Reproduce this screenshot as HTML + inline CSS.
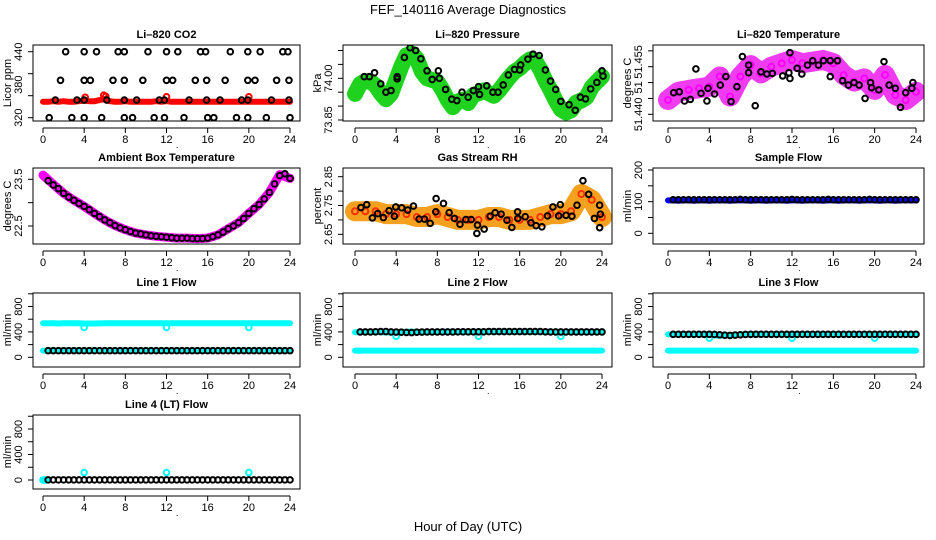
<!DOCTYPE html>
<html><head><meta charset="utf-8">
<style>
html,body{margin:0;padding:0;background:#fff;}
svg{display:block;font-family:"Liberation Sans",Arial,sans-serif;}
</style></head>
<body>
<svg id="chart" width="936" height="540" viewBox="0 0 936 540" xmlns="http://www.w3.org/2000/svg">
<rect x="0" y="0" width="936" height="540" fill="#fff"/>
<text x="468" y="14" font-size="13" text-anchor="middle">FEF_140116  Average Diagnostics</text>
<text x="468" y="531" font-size="13" text-anchor="middle">Hour of Day (UTC)</text>
</svg>
<script>
// ---------- data ----------
const xTicks = [0,4,8,12,16,20,24];
const co2BlackHours = [2.2,4.0,5.2,7.3,7.9,10.2,12.0,13.1,15.3,15.8,18.2,19.9,21.1,23.3,23.8,
 1.7,4.0,4.6,6.8,7.9,9.7,12.0,12.6,14.8,15.9,17.7,19.9,20.6,22.7,23.9,
 1.2,3.3,4.0,6.2,7.9,9.1,11.3,11.8,14.2,15.9,17.2,19.3,19.9,22.2,23.9,
 0.6,2.8,4.0,5.7,7.9,8.7,10.8,11.8,13.7,16.0,16.6,18.8,19.9,21.7,24.0];
const co2BlackValues = [440,440,440,440,440,440,440,440,440,440,440,440,440,440,440,
 388,388,388,388,388,388,388,388,388,388,388,388,388,388,388,
 352,352,352,352,352,352,352,352,352,352,352,352,352,352,352,
 320,320,320,320,320,320,320,320,320,320,320,320,320,320,320];
const co2RedValues = [349,349,350,349,350,349,349,350,351,350,350,352,354,350,349,349,350,349,349,349,349,349,350,349,350,349,349,349,349,349,349,349,349,349,349,349,349,349,349,349,349,349,349,349,349,349,349,349,349];
const co2RedOutHours = [4.1,5.9,6.1,12.0,20.0];
const co2RedOutValues = [357,361,359,358,358];

const presGreen = [73.944,73.979,73.990,73.988,73.974,73.946,73.925,73.944,73.994,74.042,74.083,74.089,74.071,74.024,74.000,73.994,73.988,73.958,73.923,73.896,73.917,73.923,73.911,73.940,73.946,73.956,73.946,73.937,73.956,73.980,74.004,74.024,74.036,74.054,74.068,74.063,74.032,73.992,73.958,73.920,73.889,73.877,73.885,73.913,73.920,73.932,73.968,73.988,74.006];
const presBlackHours = [0.9,1.4,1.9,2.5,3.0,3.5,4.1,4.1,4.8,5.35,5.9,6.4,7.0,7.5,8.1,8.2,8.8,9.4,9.9,10.4,11.0,11.5,12.0,12.1,12.8,13.4,13.9,14.4,14.9,15.5,16.0,16.1,16.8,17.3,17.9,18.5,19.0,19.5,20.0,20.8,21.4,21.9,22.4,22.9,23.5,24.0,24.1];
const presBlackValues = [74.006,74.006,74.020,73.980,73.950,73.956,74.006,73.998,74.075,74.110,74.100,74.070,74.027,73.996,74.027,74.000,73.960,73.925,73.920,73.950,73.932,73.956,73.970,73.942,73.973,73.950,73.950,73.976,74.012,74.032,74.030,74.048,74.069,74.087,74.082,74.030,73.990,73.960,73.917,73.905,73.885,73.932,73.926,73.962,73.985,74.027,74.008];

const tempMagenta = [51.4445,51.4471,51.4477,51.4482,51.4487,51.4519,51.4456,51.4519,51.4555,51.4529,51.4550,51.4561,51.4571,51.4561,51.4566,51.4571,51.4561,51.4524,51.4503,51.4513,51.4477,51.4524,51.4461,51.4445,51.4471];
const tempBlackHours = [0.55,1.1,1.6,2.16,2.7,3.2,3.77,3.87,4.5,5.06,5.6,6.1,6.67,7.2,7.8,7.8,8.44,9.0,9.57,10.1,11.1,11.7,11.8,11.8,12.5,12.95,13.5,14.0,14.56,15.05,15.7,15.7,16.4,16.9,17.46,18.0,18.5,19.07,19.6,19.7,20.4,20.9,21.4,22.0,22.5,23.0,23.6,23.7];
const tempBlackValues = [51.4468,51.4471,51.4442,51.4447,51.4543,51.4466,51.4442,51.4482,51.4464,51.4492,51.4519,51.4440,51.4487,51.4582,51.4555,51.4531,51.4427,51.4534,51.4527,51.4529,51.4521,51.4531,51.4594,51.4513,51.4545,51.4527,51.4555,51.4569,51.4555,51.4569,51.4569,51.4519,51.4569,51.4506,51.4492,51.4500,51.4492,51.4450,51.4500,51.4484,51.4477,51.4566,51.4492,51.4482,51.4422,51.4468,51.4482,51.4500];

const ambMagenta = [23.59,23.39,23.20,23.05,22.92,22.77,22.63,22.51,22.42,22.35,22.31,22.28,22.26,22.24,22.24,22.23,22.24,22.31,22.44,22.57,22.77,22.96,23.22,23.60,23.52];
const ambBlack = [23.47,23.38,23.30,23.20,23.12,23.05,22.98,22.92,22.85,22.77,22.70,22.63,22.57,22.51,22.46,22.42,22.38,22.35,22.33,22.31,22.29,22.28,22.27,22.26,22.25,22.24,22.24,22.24,22.23,22.23,22.23,22.24,22.27,22.31,22.37,22.44,22.50,22.57,22.66,22.77,22.87,22.96,23.08,23.22,23.40,23.58,23.62,23.52];

const rhOrange = [2.73,2.73,2.73,2.72,2.72,2.72,2.71,2.71,2.72,2.71,2.70,2.70,2.70,2.71,2.71,2.70,2.70,2.70,2.71,2.72,2.72,2.73,2.79,2.77,2.71];
const rhBlackHours = [0.58,1.14,1.69,2.2,2.76,3.31,3.83,3.96,4.54,5.12,5.68,6.23,6.75,7.3,7.85,7.88,8.6,9.15,9.67,10.2,10.77,11.29,11.84,11.9,12.55,13.14,13.62,14.2,14.76,15.24,15.8,15.82,16.54,17.1,17.6,18.16,18.71,19.23,19.79,19.95,20.5,21.08,21.57,22.15,22.7,23.26,23.77,23.84,23.77];
const rhBlackValues = [2.743,2.753,2.707,2.722,2.708,2.732,2.713,2.745,2.742,2.734,2.748,2.703,2.703,2.688,2.728,2.774,2.757,2.725,2.705,2.685,2.701,2.701,2.653,2.682,2.668,2.713,2.725,2.720,2.699,2.674,2.728,2.705,2.711,2.690,2.680,2.676,2.714,2.745,2.714,2.753,2.716,2.713,2.751,2.836,2.789,2.705,2.751,2.720,2.673];

const sfBlue = [104,104,103,104,104,103,104,104,103,104,104,104,103,104,104,104,103,104,104,103,104,104,104,103,104,104,103,104,104,104,103,104,104,103,104,104,104,103,104,104,104,103,104,104,103,104,104,104,104];
const sfBlack = [106,106,106,106,106,106,106,106,106,106,106,106,106,107,106,106,106,106,106,106,106,106,106,107,106,106,106,106,106,106,107,106,106,106,106,106,106,106,107,106,106,106,106,106,106,106,106,106];

const l1CyanTop = [537,537,535,532,535,535,535,535,530,532,533,534,535,535,535,535,537,537,537,537,537,537,537,537,537,537,537,537,537,537,537,537,537,537,537,537,537,537,537,537,537,537,537,537,537,537,537,537,537];
const l1CyanBottom = [105,105,105,105,105,105,105,105,105,105,105,105,105,105,105,105,105,105,105,105,105,105,105,105,105,105,105,105,105,105,105,105,105,105,105,105,105,105,105,105,105,105,105,105,105,105,105,105,105];
const l1Black = [105,105,105,105,105,105,105,105,105,105,105,105,105,105,105,105,105,105,105,105,105,105,105,105,105,105,105,105,105,105,105,105,105,105,105,105,105,105,105,105,105,105,105,105,105,105,105,105];
const l1OutHours = [4,12,20];
const l1OutValues = [470,470,470];

const l2CyanTop = [395,395,398,402,400,395,392,390,395,398,402,405,400,398,395,398,400,402,404,402,400,398,400,400,402,405,402,400,400,400,400,400,400,400,400,400,400,400,400,400,400,400,400,400,400,400,400,400,400];
const l2CyanBottom = l1CyanBottom.slice();
const l2Black = [400,400,400,402,405,405,400,398,395,392,390,395,398,400,400,400,400,400,400,402,402,402,402,402,402,405,405,405,405,405,405,405,405,405,405,405,402,400,400,400,400,400,400,400,400,400,400,400];
const l2OutHours = [4,12,20];
const l2OutValues = [330,330,330];

const l3CyanTop = [360,360,360,360,360,360,360,360,355,345,340,345,350,355,358,360,360,360,360,360,360,360,360,360,360,360,360,360,360,360,360,360,360,360,360,360,360,360,360,360,360,360,360,360,360,360,360,360,360];
const l3CyanBottom = l1CyanBottom.slice();
const l3Black = [362,362,362,362,362,362,362,362,360,355,348,345,350,355,360,362,362,362,362,362,362,362,362,362,362,362,362,362,362,362,362,362,362,362,362,362,362,362,362,362,362,362,362,362,362,362,362,362];
const l3OutHours = [4,12,20];
const l3OutValues = [300,300,300];

const l4CyanHours = [0,0.1,0.2,0.3];
const l4CyanValues = [0,0,0,0];
const l4Black = [2,2,2,2,2,2,2,2,2,2,2,2,2,2,2,2,2,2,2,2,2,2,2,2,2,2,2,2,2,2,2,2,2,2,2,2,2,2,2,2,2,2,2,2,2,2,2,2];
const l4OutHours = [4,12,20];
const l4OutValues = [117,117,117];

// ---------- helpers ----------
const NS = 'http://www.w3.org/2000/svg';
const svg = document.getElementById('chart');
function mk(tag, attrs, parent){
  const e = document.createElementNS(NS, tag);
  for (const k in attrs) e.setAttribute(k, attrs[k]);
  (parent || svg).appendChild(e);
  return e;
}
const halfHours = []; for (let i = 1; i <= 48; i++) halfHours.push(i * 0.5);
const stepHalf = []; for (let i = 0; i <= 48; i++) stepHalf.push(i * 0.5);
const stepHour = []; for (let i = 0; i <= 24; i++) stepHour.push(i);

const rows = [{t:45,b:121},{t:168,b:244},{t:293,b:367},{t:415,b:489}];
const cols = [{l:33,r:300,x0:43,x24:290},{l:343,r:612,x0:355,x24:602},{l:653,r:924,x0:668,x24:916}];

let clipN = 0;
function makePanel(name, title, ylab, row, col, v1, y1, v2, y2, ticks, labels){
  const R = rows[row], C = cols[col];
  const g = mk('g', {});
  
  
  const p = {g, R, C,
    x: h => C.x0 + h * (C.x24 - C.x0) / 24,
    y: v => y1 + (v - v1) * (y2 - y1) / (v2 - v1)};
  const id = 'clip' + (clipN++);
  const cp = mk('clipPath', {id}, g);
  mk('rect', {x:C.l, y:R.t, width:C.r - C.l, height:R.b - R.t}, cp);
  p.plot = mk('g', {'clip-path':'url(#' + id + ')'}, g);
  
  
  const box = mk('rect', {x:C.l, y:R.t, width:C.r - C.l, height:R.b - R.t, fill:'none', stroke:'#000', 'stroke-width':1}, g);
  
  
  const t = mk('text', {x:(C.l + C.r) / 2, y:R.t - 7, 'font-size':11, 'font-weight':'bold', 'text-anchor':'middle'}, g);
  t.textContent = title;
  
  
  const ay = R.b + 7;
  mk('line', {x1:p.x(0), x2:p.x(24), y1:ay, y2:ay, stroke:'#000'}, g);
  xTicks.forEach(h => {
    mk('line', {x1:p.x(h), x2:p.x(h), y1:ay, y2:ay + 5, stroke:'#000'}, g);
    const tl = mk('text', {x:p.x(h), y:R.b + 22, 'font-size':11, 'text-anchor':'middle'}, g);
    tl.textContent = String(h);
    
    
  });
  const dot = mk('text', {x:C.l + (C.r - C.l) * 0.54, y:R.b + 27, 'font-size':9, 'text-anchor':'middle'}, g);
  dot.textContent = '.';
  mk('line', {x1:C.l, x2:C.l, y1:p.y(ticks[0]), y2:p.y(ticks[ticks.length - 1]), stroke:'#000'}, g);
  ticks.forEach(v => mk('line', {x1:C.l - 5, x2:C.l, y1:p.y(v), y2:p.y(v), stroke:'#000'}, g));
  labels.forEach(([v, s]) => {
    const yy = p.y(v), xx = C.l - 11;
    const tl = mk('text', {x:xx, y:yy, 'font-size':11, 'text-anchor':'middle', transform:'rotate(-90 ' + xx + ' ' + yy + ')'}, g);
    tl.textContent = s;
    
    
  });
  const ym = (R.t + R.b) / 2, xm = C.l - 22;
  const yl = mk('text', {x:xm, y:ym, 'font-size':11, 'text-anchor':'middle', transform:'rotate(-90 ' + xm + ' ' + ym + ')'}, g);
  yl.textContent = ylab;
  
  
  return p;
}
function band(p, hours, vals, color, width, name){
  const pts = hours.map((h, i) => p.x(h).toFixed(1) + ',' + p.y(vals[i]).toFixed(1)).join(' ');
  const pl = mk('polyline', {points:pts, fill:'none', stroke:color, 'stroke-width':width, 'stroke-linejoin':'round', 'stroke-linecap':'round'}, p.plot);
  
  
}
function pts(p, hours, vals, color, name, r){
  hours.forEach((h, i) => {
    const c = mk('circle', {cx:p.x(h), cy:p.y(vals[i]), r:r || 2.8, fill:'none', stroke:color, 'stroke-width':2}, p.plot);
    
    
  });
}

// ---------- panels ----------
let p;
p = makePanel('co2', 'Li\u2013820 CO2', 'Licor ppm', 0, 0, 320, 117.7, 440, 51.7, [320,360,400,440], [[320,'320'],[380,'380'],[440,'440']]);
band(p, stepHalf, co2RedValues, '#ff0000', 6, 'co2-red-series');
pts(p, co2RedOutHours, co2RedOutValues, '#ff0000', 'co2-red-point');
pts(p, co2BlackHours, co2BlackValues, '#000', 'co2-black-point');

p = makePanel('pressure', 'Li\u2013820 Pressure', 'kPa', 0, 1, 74.00, 78.3, 73.85, 120, [73.85,73.90,73.95,74.00,74.05,74.10], [[73.85,'73.85'],[74.00,'74.00']]);
band(p, stepHalf, presGreen, '#1ed21e', 16, 'pressure-green-series');
pts(p, presBlackHours, presBlackValues, '#000', 'pressure-black-point');

p = makePanel('temperature', 'Li\u2013820 Temperature', 'degrees C', 0, 2, 51.44, 114.3, 51.455, 66.7, [51.440,51.445,51.450,51.455,51.460], [[51.440,'51.440'],[51.4485,'51'],[51.4565,'51.455']]);
band(p, stepHour, tempMagenta, '#f03cf0', 20, 'temperature-magenta-series');
pts(p, stepHour, tempMagenta, '#ff00ff', 'temperature-magenta-point', 3);
pts(p, tempBlackHours, tempBlackValues, '#000', 'temperature-black-point');

p = makePanel('ambient', 'Ambient Box Temperature', 'degrees C', 1, 0, 23.5, 179.3, 22.5, 226, [22.5,23.0,23.5], [[22.5,'22.5'],[23.5,'23.5']]);
band(p, stepHour, ambMagenta, '#ff00ff', 9, 'ambient-magenta-series');
pts(p, halfHours, ambBlack, '#000', 'ambient-black-point');

p = makePanel('rh', 'Gas Stream RH', 'percent', 1, 1, 2.85, 176.7, 2.65, 234.3, [2.65,2.70,2.75,2.80,2.85], [[2.65,'2.65'],[2.75,'2.75'],[2.85,'2.85']]);
band(p, stepHour, rhOrange, '#f5a01e', 20, 'rh-orange-series');
pts(p, stepHour, rhOrange, '#ff3000', 'rh-orange-point', 3);
pts(p, rhBlackHours, rhBlackValues, '#000', 'rh-black-point');

p = makePanel('sample-flow', 'Sample Flow', 'ml/min', 1, 2, 0, 233.3, 200, 170, [0,50,100,150,200], [[0,'0'],[100,'100'],[200,'200']]);
band(p, stepHalf, sfBlue, '#0000ff', 6, 'sample-flow-blue-series');
pts(p, halfHours, sfBlack, '#000', 'sample-flow-black-point');

const flowTicks = [0,200,400,600,800,1000];
const flowLabels = [[0,'0'],[400,'400'],[800,'800']];
p = makePanel('line1', 'Line 1 Flow', 'ml/min', 2, 0, 0, 357.3, 800, 306.5, flowTicks, flowLabels);
band(p, stepHalf, l1CyanTop, '#00ffff', 6, 'line1-cyan-upper-series');
band(p, stepHalf, l1CyanBottom, '#00ffff', 6, 'line1-cyan-lower-series');
pts(p, l1OutHours, l1OutValues, '#00ffff', 'line1-cyan-point');
pts(p, halfHours, l1Black, '#000', 'line1-black-point');

p = makePanel('line2', 'Line 2 Flow', 'ml/min', 2, 1, 0, 357.3, 800, 306.5, flowTicks, flowLabels);
band(p, stepHalf, l2CyanTop, '#00ffff', 6, 'line2-cyan-upper-series');
band(p, stepHalf, l2CyanBottom, '#00ffff', 6, 'line2-cyan-lower-series');
pts(p, l2OutHours, l2OutValues, '#00ffff', 'line2-cyan-point');
pts(p, halfHours, l2Black, '#000', 'line2-black-point');

p = makePanel('line3', 'Line 3 Flow', 'ml/min', 2, 2, 0, 357.3, 800, 306.5, flowTicks, flowLabels);
band(p, stepHalf, l3CyanTop, '#00ffff', 6, 'line3-cyan-upper-series');
band(p, stepHalf, l3CyanBottom, '#00ffff', 6, 'line3-cyan-lower-series');
pts(p, l3OutHours, l3OutValues, '#00ffff', 'line3-cyan-point');
pts(p, halfHours, l3Black, '#000', 'line3-black-point');

p = makePanel('line4', 'Line 4 (LT) Flow', 'ml/min', 3, 0, 0, 480, 800, 429, flowTicks, flowLabels);
pts(p, l4CyanHours, l4CyanValues, '#00ffff', 'line4-cyan-point');
pts(p, l4OutHours, l4OutValues, '#00ffff', 'line4-cyan-outlier-point');
pts(p, halfHours, l4Black, '#000', 'line4-black-point');
</script>
</body></html>
